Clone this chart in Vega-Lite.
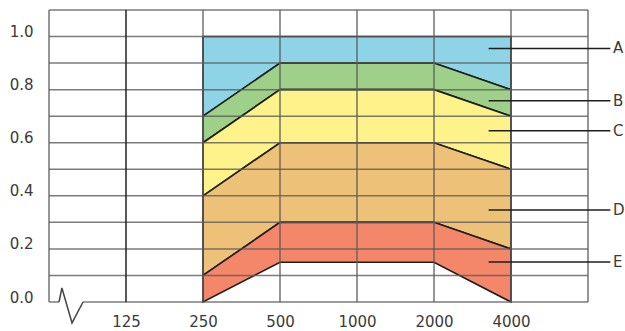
{
  "$schema": "https://vega.github.io/schema/vega-lite/v6.json",
  "width": 539,
  "height": 292,
  "autosize": "none",
  "padding": {"left": 49, "top": 10, "right": 37, "bottom": 29},
  "background": "white",
  "config": {
    "view": {"stroke": null},
    "font": "DejaVu Sans",
    "axis": {"labelFont": "DejaVu Sans", "labelFontSize": 15, "labelColor": "#3a3a3a", "domain": false, "ticks": false, "grid": false}
  },
  "datasets": {
    "bands": [
      {"band": "A", "freq": 250, "lo": 0.7, "hi": 1.0},
      {"band": "A", "freq": 500, "lo": 0.9, "hi": 1.0},
      {"band": "A", "freq": 2000, "lo": 0.9, "hi": 1.0},
      {"band": "A", "freq": 4000, "lo": 0.8, "hi": 1.0},
      {"band": "B", "freq": 250, "lo": 0.6, "hi": 0.7},
      {"band": "B", "freq": 500, "lo": 0.8, "hi": 0.9},
      {"band": "B", "freq": 2000, "lo": 0.8, "hi": 0.9},
      {"band": "B", "freq": 4000, "lo": 0.7, "hi": 0.8},
      {"band": "C", "freq": 250, "lo": 0.4, "hi": 0.6},
      {"band": "C", "freq": 500, "lo": 0.6, "hi": 0.8},
      {"band": "C", "freq": 2000, "lo": 0.6, "hi": 0.8},
      {"band": "C", "freq": 4000, "lo": 0.5, "hi": 0.7},
      {"band": "D", "freq": 250, "lo": 0.1, "hi": 0.4},
      {"band": "D", "freq": 500, "lo": 0.3, "hi": 0.6},
      {"band": "D", "freq": 2000, "lo": 0.3, "hi": 0.6},
      {"band": "D", "freq": 4000, "lo": 0.2, "hi": 0.5},
      {"band": "E", "freq": 250, "lo": 0.0, "hi": 0.1},
      {"band": "E", "freq": 500, "lo": 0.15, "hi": 0.3},
      {"band": "E", "freq": 2000, "lo": 0.15, "hi": 0.3},
      {"band": "E", "freq": 4000, "lo": 0.0, "hi": 0.2}
    ],
    "hgrid": [
      {"y": 0.0, "x1": 62.5, "x2": 68.4},
      {"y": 0.0, "x1": 84.9, "x2": 8000},
      {"y": 0.1, "x1": 62.5, "x2": 8000},
      {"y": 0.2, "x1": 62.5, "x2": 8000},
      {"y": 0.3, "x1": 62.5, "x2": 8000},
      {"y": 0.4, "x1": 62.5, "x2": 8000},
      {"y": 0.5, "x1": 62.5, "x2": 8000},
      {"y": 0.6, "x1": 62.5, "x2": 8000},
      {"y": 0.7, "x1": 62.5, "x2": 8000},
      {"y": 0.8, "x1": 62.5, "x2": 8000},
      {"y": 0.9, "x1": 62.5, "x2": 8000},
      {"y": 1.0, "x1": 62.5, "x2": 8000},
      {"y": 1.1, "x1": 62.5, "x2": 8000}
    ],
    "vgrid": [
      {"x": 62.5, "kind": "frame"},
      {"x": 125, "kind": "dark"},
      {"x": 250, "kind": "grid"},
      {"x": 500, "kind": "grid"},
      {"x": 1000, "kind": "grid"},
      {"x": 2000, "kind": "grid"},
      {"x": 4000, "kind": "grid"},
      {"x": 8000, "kind": "frame"}
    ],
    "zigzag": [
      {"i": 0, "x": 68.4, "y": 0.0},
      {"i": 1, "x": 70.2, "y": 0.053},
      {"i": 2, "x": 76.9, "y": -0.079},
      {"i": 3, "x": 84.9, "y": 0.0}
    ],
    "labels": [
      {"band": "A", "y": 0.955, "x1": 3270, "x2": 9781, "xt": 10020},
      {"band": "B", "y": 0.758, "x1": 3270, "x2": 9781, "xt": 10020},
      {"band": "C", "y": 0.645, "x1": 3270, "x2": 9781, "xt": 10020},
      {"band": "D", "y": 0.347, "x1": 3270, "x2": 9781, "xt": 10020},
      {"band": "E", "y": 0.151, "x1": 3270, "x2": 9781, "xt": 10020}
    ]
  },
  "layer": [
    {
      "data": {"name": "bands"},
      "mark": {"type": "area", "stroke": "#1e1e1e", "strokeWidth": 1.6, "strokeJoin": "miter"},
      "encoding": {
        "x": {"field": "freq", "type": "quantitative", "title": null,
              "scale": {"type": "log", "base": 2, "domain": [62.5, 8000], "nice": false},
              "axis": {"values": [125, 250, 500, 1000, 2000, 4000], "format": "d", "labelPadding": 12, "labelAlign": "center", "title": null}},
        "y": {"field": "hi", "type": "quantitative", "title": null,
              "scale": {"domain": [0, 1.1], "nice": false, "zero": false},
              "axis": {"values": [0, 0.2, 0.4, 0.6, 0.8, 1.0], "format": ".1f", "labelPadding": 16, "labelOffset": -5, "title": null}},
        "y2": {"field": "lo"},
        "color": {"field": "band", "type": "nominal", "legend": null,
                  "scale": {"domain": ["A", "B", "C", "D", "E"], "range": ["#8fd4e6", "#9fd08a", "#fef28a", "#edc177", "#f4866a"]}},
        "detail": {"field": "band"}
      }
    },
    {
      "data": {"name": "hgrid"},
      "mark": {"type": "rule", "color": "#5a5a5a", "strokeWidth": 1.5, "opacity": 0.8},
      "encoding": {
        "x": {"field": "x1", "type": "quantitative", "title": null},
        "x2": {"field": "x2"},
        "y": {"field": "y", "type": "quantitative", "title": null}
      }
    },
    {
      "data": {"name": "vgrid"},
      "transform": [{"filter": "datum.kind != 'dark'"}],
      "mark": {"type": "rule", "color": "#5a5a5a", "strokeWidth": 1.5, "opacity": 0.85},
      "encoding": {
        "x": {"field": "x", "type": "quantitative", "title": null},
        "y": {"datum": 0},
        "y2": {"datum": 1.1}
      }
    },
    {
      "data": {"name": "vgrid"},
      "transform": [{"filter": "datum.kind == 'dark'"}],
      "mark": {"type": "rule", "color": "#222222", "strokeWidth": 1.5},
      "encoding": {
        "x": {"field": "x", "type": "quantitative", "title": null},
        "y": {"datum": 0},
        "y2": {"datum": 1.1}
      }
    },
    {
      "data": {"name": "zigzag"},
      "mark": {"type": "line", "color": "#444444", "strokeWidth": 1.5, "clip": false},
      "encoding": {
        "x": {"field": "x", "type": "quantitative", "title": null},
        "y": {"field": "y", "type": "quantitative", "title": null},
        "order": {"field": "i"}
      }
    },
    {
      "data": {"name": "labels"},
      "mark": {"type": "rule", "color": "#1e1e1e", "strokeWidth": 1.5, "clip": false},
      "encoding": {
        "x": {"field": "x1", "type": "quantitative", "title": null},
        "x2": {"field": "x2"},
        "y": {"field": "y", "type": "quantitative", "title": null}
      }
    },
    {
      "data": {"name": "labels"},
      "mark": {"type": "text", "align": "left", "baseline": "middle", "fontSize": 15, "color": "#3a3a3a", "clip": false},
      "encoding": {
        "x": {"field": "xt", "type": "quantitative", "title": null},
        "y": {"field": "y", "type": "quantitative", "title": null},
        "text": {"field": "band"}
      }
    }
  ]
}
